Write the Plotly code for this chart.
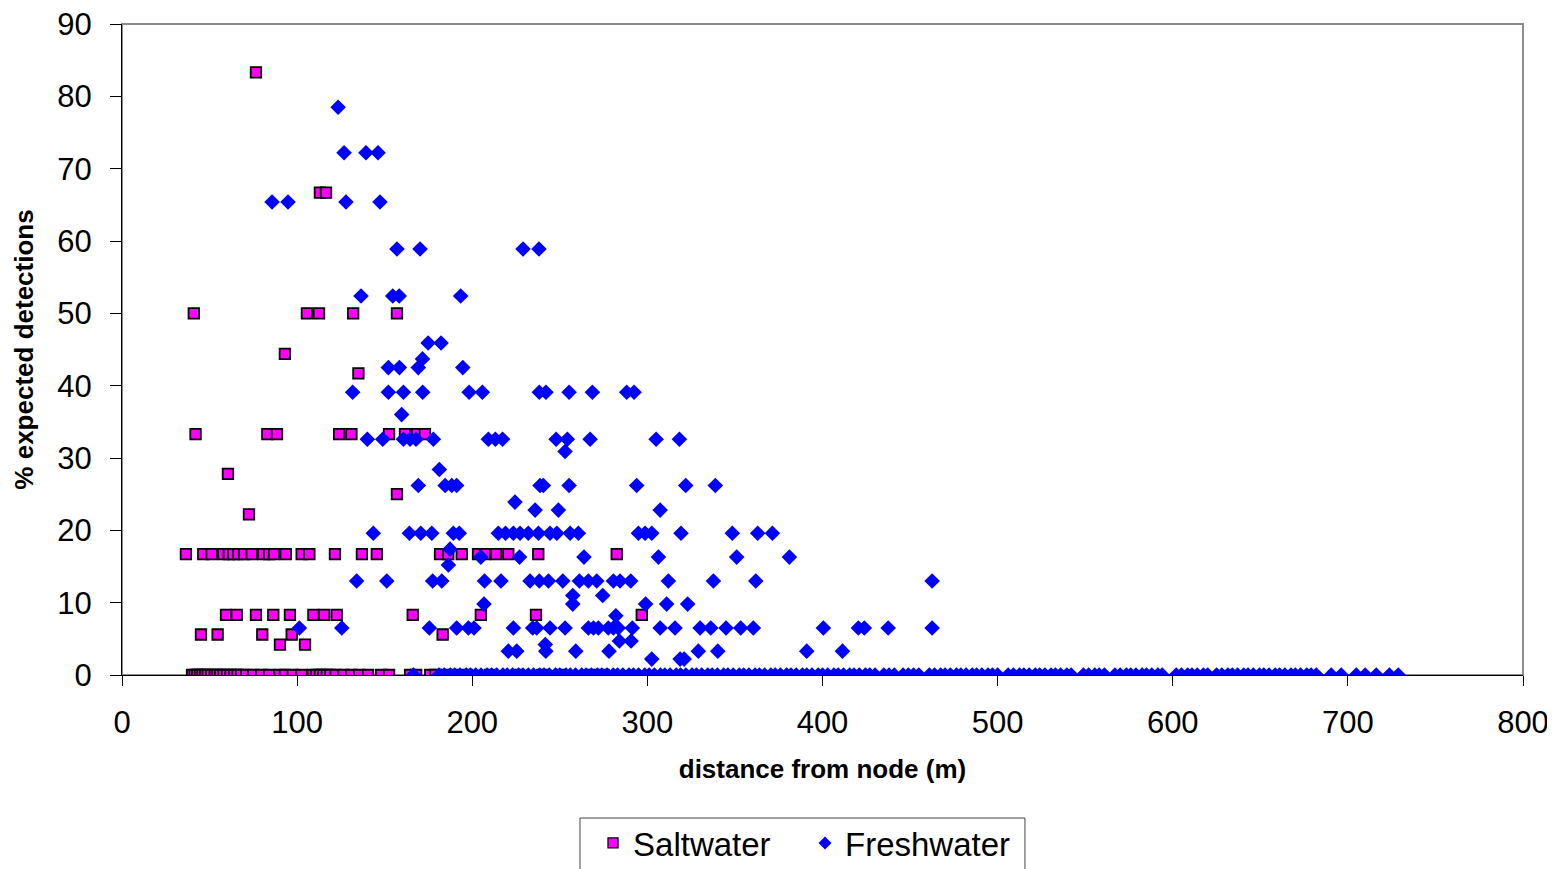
import plotly.graph_objects as go

# ---------------- data ----------------
# Saltwater: (distance, % expected detections), grouped by detection level
salt_levels = [83.3, 66.7, 50.0, 44.4, 41.7, 33.3, 27.8, 25.0, 22.2, 16.7, 8.3, 5.6, 4.2, 0.0]
salt_dist = [
    [76.5],
    [113, 116.5],
    [41, 105.6, 112.5, 132, 157],
    [93],
    [135],
    [42, 83, 88.5, 124, 131, 152.5, 161.6, 168.5, 173],
    [60.5],
    [157],
    [72.5],
    [36.5, 46.4, 51.2, 57.9, 61, 63.6, 66.5, 69.7, 74.1, 80.7, 84, 86.8, 93.5, 102.6, 107,
     121.6, 137, 145.5, 181.6, 186.3, 194, 203.3, 207.3, 213.6, 220.6, 237.7, 282.5],
    [59.4, 65.5, 76.5, 86.4, 95.9, 109.3, 115.4, 122.6, 166, 204.9, 236.4, 296.8],
    [45.1, 54.6, 80.1, 96.9, 183.1],
    [90.2, 104.5],
    [40, 41.5, 43, 44.5, 46, 47.5, 49, 51, 53, 54.5, 56, 58, 60, 62, 64, 66, 68, 71, 75,
     79.5, 84, 90, 93, 97.5, 102.5, 109, 111, 113, 115, 117, 119, 122, 126.5, 131, 135.5,
     140.5, 148, 152.5, 164.5, 168, 176, 179, 184, 190, 197, 210, 226, 240, 250, 268, 275],
]

fresh_levels = [78.5, 72.2, 65.4, 58.9, 52.4, 45.9, 43.7, 42.5, 39.1, 36.0, 32.6, 30.9, 28.4,
                26.2, 23.9, 22.8, 19.6, 17.4, 16.3, 15.2, 13.0, 11.0, 9.8, 8.2, 6.5, 4.7,
                4.2, 3.3, 2.2, 0.0]
fresh_dist = [
    [123.4],
    [126.8, 139.3, 146.2],
    [85.7, 94.8, 127.9, 147.3],
    [157, 170.2, 229, 238.1],
    [136.5, 154.6, 158.3, 193.4],
    [174.8, 182.2],
    [171.6],
    [152.1, 158.4, 169.2, 194.6],
    [131.7, 152.1, 160.7, 171.7, 198.2, 205.8, 238.3, 242.1, 255.3, 268.6, 288.2, 292.4],
    [159.7],
    [140.1, 148.9, 160.7, 164.5, 167.9, 177.8, 209.2, 213.2, 217.3, 247.9, 254.3, 267.3, 305, 318.3],
    [253],
    [181.2],
    [169.2, 184.5, 188.3, 191.1, 238.7, 240.6, 255.3, 293.9, 321.9, 338.8],
    [224.4],
    [235.9, 249.2, 307.3],
    [143.5, 164.1, 170.6, 176.9, 189.2, 192.6, 214.9, 219, 223.5, 227.3, 232, 237.8, 244.4,
     248.3, 255.9, 260.6, 294.9, 298.7, 302.5, 319.2, 348.5, 363, 371.4],
    [187.3],
    [204.9, 227, 263.8, 306.3, 351, 381.1],
    [186.4],
    [134, 151.2, 177.4, 182.6, 207, 216.4, 233, 238.3, 243.5, 251.7, 261.2, 266.3, 271.1,
     280.6, 284.4, 290.5, 312, 337.7, 361.9, 462.6],
    [257.4, 274.5],
    [206.7, 257.4, 299, 311, 323],
    [282],
    [101.3, 125.5, 175.5, 191.1, 197.8, 201, 223.5, 234.5, 236.8, 244.4, 253, 266.3, 269.2,
     272, 277.7, 280.6, 283.4, 291.4, 307.3, 315.8, 330.1, 336.2, 344.9, 353.3, 360.5,
     400.5, 420.5, 423.9, 437.5, 462.6],
    [284, 290.7],
    [241.7],
    [220.6, 225.4, 242, 259.1, 278.1, 329.1, 340.2, 391, 411.4],
    [302.5, 318.7, 321],
    [166.4, 181, 184, 187.5, 190, 193, 196.5, 199, 202, 205, 208.5, 211, 214, 217.5, 220,
     223, 226.5, 229, 232, 235, 238.5, 241, 244, 247.5, 250, 253.5, 256, 259, 262.5, 265,
     268, 271.5, 274, 277, 280.5, 283, 286, 289.5, 292, 295, 298.5, 301, 304, 307.5, 310,
     313, 316.5, 319, 322, 325.5, 328, 331, 334.5, 337, 340, 343.5, 346, 349, 352.5, 355,
     358, 361.5, 364, 367, 370.5, 373, 376, 379.5, 382, 385, 388.5, 391, 394, 397.5, 400,
     403, 406.5, 409, 412, 415.5, 418, 421, 424.5, 427, 430, 435, 438, 441, 446, 449, 452,
     455, 461, 464, 467.5, 470, 473, 476.5, 479, 482, 485.5, 488, 491, 494.5, 497, 500,
     506, 509, 512.5, 515, 518, 521.5, 524, 527, 530.5, 533, 536, 539.5, 542, 549, 552,
     555.5, 558, 561, 567, 570, 573.5, 576, 579, 582.5, 585, 588, 591.5, 594, 602, 605,
     608.5, 611, 614, 617.5, 620, 625, 628, 631.5, 634, 637, 640.5, 643, 646, 649.5, 652,
     655, 658.5, 661, 664, 667.5, 670, 673, 676.5, 679, 682, 690.5, 696.2, 704.8, 709.9,
     716.2, 723.7, 728.8],
]

x_ticks = [0, 100, 200, 300, 400, 500, 600, 700, 800]
y_ticks = [0, 10, 20, 30, 40, 50, 60, 70, 80, 90]


def flatten(levels, dists):
    xs, ys = [], []
    for lv, ds in zip(levels, dists):
        for d in ds:
            xs.append(d)
            ys.append(lv)
    return xs, ys


sx, sy = flatten(salt_levels, salt_dist)
fx, fy = flatten(fresh_levels, fresh_dist)

FONT = "Liberation Sans, Arial, sans-serif"

fig = go.Figure()
fig.add_trace(go.Scatter(
    x=sx, y=sy, mode="markers", name="Saltwater", showlegend=False,
    marker=dict(symbol="square", size=10.5, color="#FF00FF",
                line=dict(color="#000000", width=1.8)),
))
fig.add_trace(go.Scatter(
    x=fx, y=fy, mode="markers", name="Freshwater", showlegend=False,
    marker=dict(symbol="diamond", size=12, color="#0000FF",
                line=dict(color="#0000FF", width=0)),
))
# legend entries (smaller symbols like the reference)
fig.add_trace(go.Scatter(
    x=[None], y=[None], mode="markers", name="Saltwater",
    marker=dict(symbol="square", size=10, color="#FF00FF",
                line=dict(color="#000000", width=1.3)),
))
fig.add_trace(go.Scatter(
    x=[None], y=[None], mode="markers", name="Freshwater",
    marker=dict(symbol="diamond", size=10, color="#0000FF",
                line=dict(color="#0000FF", width=0)),
))

# page body has an 8px margin -> figure is 8px smaller than the window
fig.update_layout(
    width=1547, height=861,
    margin=dict(l=114, r=32, t=16, b=194, autoexpand=False),
    paper_bgcolor="white", plot_bgcolor="white",
    font=dict(family=FONT, color="black"),
    showlegend=True,
    legend=dict(
        orientation="h", x=0.3362, y=-0.215, xanchor="left", yanchor="top",
        font=dict(family=FONT, size=33, color="black"),
        borderwidth=0, bgcolor="rgba(0,0,0,0)",
        entrywidth=167, entrywidthmode="pixels",
    ),
    shapes=[
        dict(type="rect", xref="paper", yref="paper", x0=0, x1=1, y0=0, y1=1,
             line=dict(color="#8c8c8c", width=2), layer="below"),
        # legend frame (cut by the bottom edge as in the reference)
        dict(type="rect", xref="paper", yref="paper", x0=0.3269, x1=0.6445,
             y0=-0.36, y1=-0.2197, line=dict(color="#444444", width=1),
             fillcolor="rgba(0,0,0,0)", layer="above"),
    ],
)

fig.update_xaxes(
    range=[0, 800], tickvals=x_ticks, ticktext=[str(v) for v in x_ticks],
    showgrid=False, zeroline=False, showline=True, linecolor="black", linewidth=1,
    ticks="outside", ticklen=10, tickcolor="black", tickwidth=1,
    tickfont=dict(family=FONT, size=31, color="black"), ticklabelstandoff=10,
    ticklabeloverflow="allow",
    layer="below traces",
    title=dict(text="<b>distance from node (m)</b>",
               font=dict(family=FONT, size=26, color="black"), standoff=20),
)
fig.update_yaxes(
    range=[0, 90], tickvals=y_ticks, ticktext=[str(v) for v in y_ticks],
    showgrid=False, zeroline=False, showline=True, linecolor="black", linewidth=1,
    ticks="outside", ticklen=11, tickcolor="black", tickwidth=1,
    tickfont=dict(family=FONT, size=31, color="black"), ticklabelstandoff=12,
    ticklabeloverflow="allow",
    layer="below traces",
    title=dict(text="<b>% expected detections</b>",
               font=dict(family=FONT, size=26, color="black"), standoff=16),
)

fig.write_html("out.html")
